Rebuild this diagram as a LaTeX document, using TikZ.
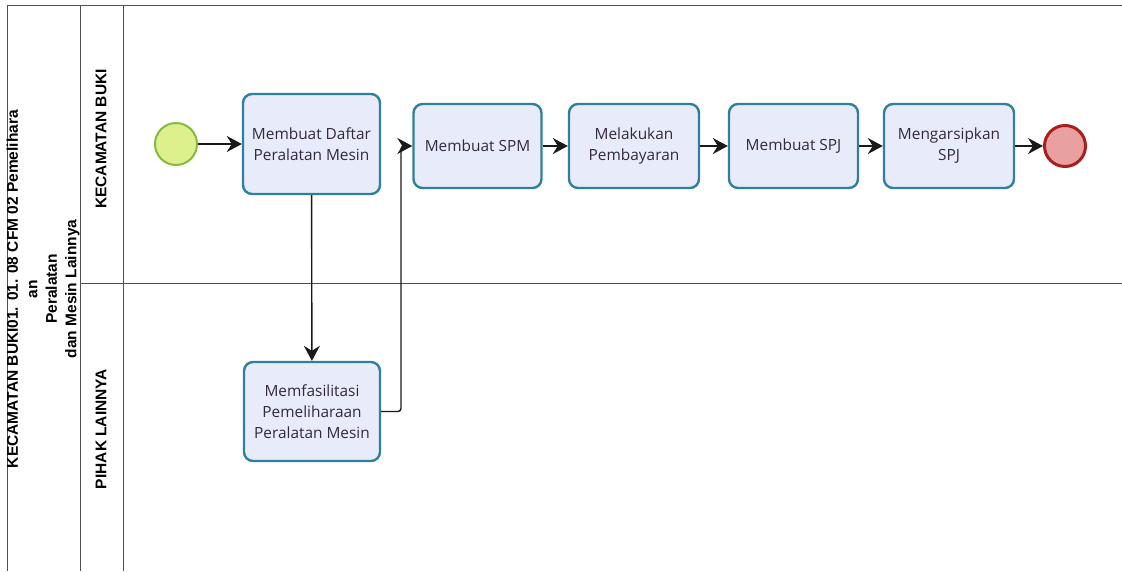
\documentclass[tikz,border=0pt]{standalone}
\usepackage{fontspec}
\setmainfont{Open Sans}
\newfontfamily\lanefont{Liberation Sans}
\usetikzlibrary{arrows.meta}
\definecolor{taskfill}{RGB}{232,236,250}
\definecolor{taskdraw}{RGB}{46,128,160}
\definecolor{txt}{RGB}{50,40,65}
\definecolor{startfill}{RGB}{220,240,140}
\definecolor{startdraw}{RGB}{130,190,60}
\definecolor{endfill}{RGB}{232,160,160}
\definecolor{enddraw}{RGB}{170,30,30}
\definecolor{lanecol}{RGB}{80,80,80}
\begin{document}
\begin{tikzpicture}[x=1pt,y=-1pt,
 task/.style={draw=taskdraw, line width=2.4pt, fill=taskfill, rounded corners=9pt, text=txt, font=\fontsize{15.4}{21}\selectfont, align=center, inner sep=0pt},
 flow/.style={draw=black!90, line width=1.4pt, -{Stealth[length=15pt,width=16pt,inset=5pt]}},
 lane/.style={draw=lanecol, line width=0.9pt},
 lanelabel/.style={rotate=90, font=\lanefont\bfseries\fontsize{15.5}{19.5}\selectfont, align=center, inner sep=0pt}
]
\useasboundingbox (0,0) rectangle (1122,571);
\fill[white] (0,0) rectangle (1122,571);
% pool and lanes
\draw[lane] (7,5) -- (1122,5);
\draw[lane] (7,5) -- (7,571);
\draw[lane] (80,5) -- (80,571);
\draw[lane] (123,5) -- (123,571);
\draw[lane] (80,283) -- (1122,283);
\node[lanelabel] (pool) at (43,289) {KECAMATAN BUKI01. 01. 08 CFM 02 Pemelihara\\an\\Peralatan\\dan Mesin Lainnya};
\node[lanelabel] (lane1) at (101,139) {KECAMATAN BUKI};
\node[lanelabel] (lane2) at (101,429) {PIHAK LAINNYA};
% events
\node[circle, draw=startdraw, fill=startfill, line width=2pt, minimum size=42pt, inner sep=0pt] (start) at (176,144) {};
\node[circle, draw=enddraw, fill=endfill, line width=3pt, minimum size=41pt, inner sep=0pt] (end) at (1065,146) {};
% tasks
\node[task, minimum width=137pt, minimum height=100pt] (t1) at (311.5,144) {Membuat Daftar\\Peralatan Mesin};
\node[task, minimum width=128pt, minimum height=84pt] (t2) at (477.5,146) {Membuat SPM};
\node[task, minimum width=130pt, minimum height=84pt] (t3) at (634,146) {Melakukan\\Pembayaran};
\node[task, minimum width=129pt, minimum height=84pt] (t4) at (793.5,146) {Membuat SPJ};
\node[task, minimum width=130pt, minimum height=84pt] (t5) at (949,146) {Mengarsipkan\\SPJ};
\node[task, minimum width=136pt, minimum height=99pt] (t6) at (312,411.5) {Memfasilitasi\\Pemeliharaan\\Peralatan Mesin};
% flows
\coordinate (j1) at (401,411.5);
\coordinate (j2) at (401,146);
\draw[flow] (start) -- (t1);
\draw[flow] (t1) -- (t6);
\draw[flow, rounded corners=3pt] (t6.east) -- (j1) -- (j2) -- (t2.west);
\draw[flow] (t2) -- (t3);
\draw[flow] (t3) -- (t4);
\draw[flow] (t4) -- (t5);
\draw[flow] (t5) -- (end);
\end{tikzpicture}
\end{document}
